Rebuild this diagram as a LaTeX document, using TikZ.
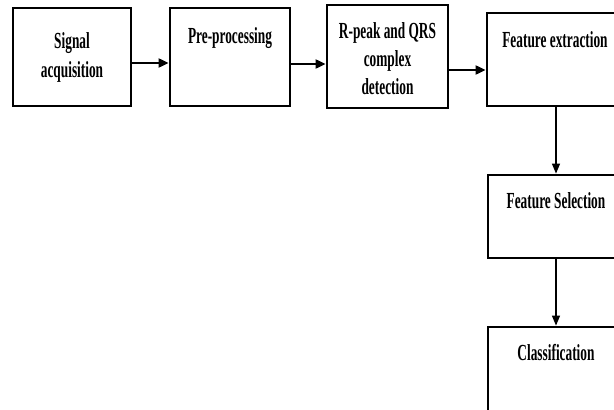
\documentclass[tikz,border=0pt]{standalone}
\usepackage{fontspec}
\setmainfont{Liberation Serif}[FakeStretch=0.58]
\usetikzlibrary{arrows.meta}
\begin{document}
\begin{tikzpicture}[x=1pt,y=1pt,
  box/.style={draw=black,line width=2.8pt,fill=white,rectangle,inner sep=0pt},
  txt/.style={anchor=base,inner sep=0pt,text=black,font=\fontsize{23}{27}\selectfont\bfseries},
  harr/.style={line width=2pt,-{Triangle[length=10pt,width=9pt]}},
  varr/.style={line width=1.3pt,-{Triangle[length=10pt,width=8pt]}}]
\clip (0,0) rectangle (614,-410);
\fill[white] (0,0) rectangle (614,-410);
% boxes
\node[box,minimum width=118pt,minimum height=98pt] (b1) at (72,-57) {};
\node[box,minimum width=120pt,minimum height=98pt] (b2) at (230,-57) {};
\node[box,minimum width=121pt,minimum height=103pt] (b3) at (387.5,-56.5) {};
\node[box,minimum width=136pt,minimum height=93pt] (b4) at (555,-59.5) {};
\node[box,minimum width=136pt,minimum height=83pt] (b5) at (556,-216.5) {};
\node[box,minimum width=136pt,minimum height=110pt] (b6) at (556,-382) {};
% texts
\node[txt] (t1a) at (72,-48) {Signal};
\node[txt] (t1b) at (72,-77) {acquisition};
\node[txt] (t2) at (230,-43) {Pre-processing};
\node[txt] (t3a) at (387.5,-38) {R-peak and QRS};
\node[txt] (t3b) at (387.5,-66) {complex};
\node[txt] (t3c) at (387.5,-94) {detection};
\node[txt] (t4) at (555,-47) {Feature extraction};
\node[txt] (t5) at (556,-208) {Feature Selection};
\node[txt] (t6) at (556,-360) {Classification};
% connectors
\draw[harr] (b1.east |- 0,-63) -- (b2.west |- 0,-63);
\draw[harr] (b2.east |- 0,-64) -- (b3.west |- 0,-64);
\draw[harr] (b3.east |- 0,-70) -- (b4.west |- 0,-70);
\draw[varr] (b4.south -| b5.north) -- (b5.north);
\draw[varr] (b5.south) -- (b6.north);
\end{tikzpicture}
\end{document}
